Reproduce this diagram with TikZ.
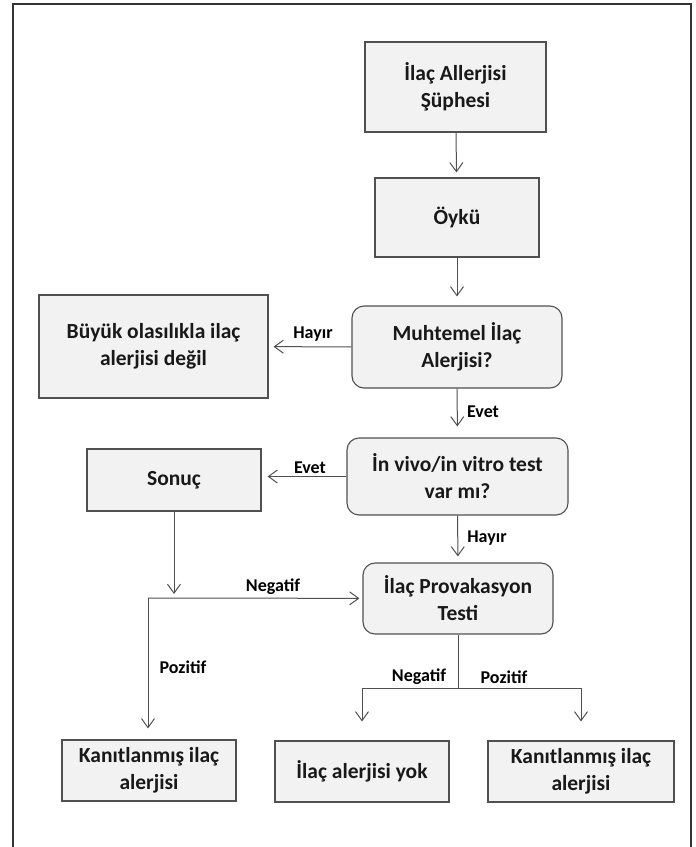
\documentclass[tikz,border=0pt]{standalone}
\usepackage{fontspec}
\setmainfont{Carlito}
\usetikzlibrary{arrows.meta}
\definecolor{boxgray}{HTML}{F2F2F3}
\definecolor{linegray}{HTML}{505050}

\begin{document}
\begin{tikzpicture}[x=1pt,y=-1pt,
    box/.style={draw=linegray,line width=1.1pt,fill=boxgray,align=center,text=black!90,
      font=\bfseries\fontsize{21.5}{27}\selectfont,inner sep=0pt},
    rbox/.style={box,rounded corners=12pt},
    lbl/.style={font=\bfseries\fontsize{18}{20}\selectfont},
    arr/.style={draw=linegray,line width=1pt,-{Straight Barb[length=9pt,width=13pt]}}]
  \useasboundingbox (0,0) rectangle (696,847);
  \draw [line width=1.5pt,black!80] (13,847)--(13,4)--(691,4)--(691,847);

  % boxes
  \node [box,minimum width=181pt,minimum height=90pt] (suphe) at (455.5,87) {İlaç Allerjisi\\Şüphesi};
  \node [box,minimum width=164pt,minimum height=79pt] (oyku) at (457,217.5) {Öykü};
  \node [rbox,minimum width=210pt,minimum height=82pt] (muhtemel) at (457,347) {Muhtemel İlaç\\Alerjisi?};
  \node [box,minimum width=229pt,minimum height=103pt] (degil) at (153.5,346.5) {Büyük olasılıkla ilaç\\alerjisi değil};
  \node [rbox,minimum width=221pt,minimum height=77pt] (test) at (457.5,476.5) {İn vivo/in vitro test\\var mı?};
  \node [box,minimum width=174pt,minimum height=62pt] (sonuc) at (174,480) {Sonuç};
  \node [rbox,minimum width=190pt,minimum height=71pt] (provak) at (458,598.5) {İlaç Provakasyon\\Testi};
  \node [box,minimum width=174pt,minimum height=61pt] (kanit) at (149,770.5) {Kanıtlanmış ilaç\\alerjisi};
  \node [box,minimum width=174pt,minimum height=61pt] (yok) at (362,771.5) {İlaç alerjisi yok};
  \node [box,minimum width=186pt,minimum height=61pt] (kanitb) at (581,771.5) {Kanıtlanmış ilaç\\alerjisi};

  % connectors
  \draw [arr,shorten >=5pt] (suphe) -- (oyku);
  \draw [arr,shorten >=9pt] (oyku) -- (muhtemel);
  \draw [arr,shorten >=5pt] (muhtemel) -- (degil);
  \draw [arr,shorten >=11pt] (muhtemel) -- (test);
  \draw [arr,shorten >=6pt] (test.west) -- (sonuc.east |- test.west);
  \draw [arr,shorten >=6pt] (test) -- (provak);
  \coordinate (join) at (148,598);
  \draw [arr,shorten >=4pt] (sonuc) -- (sonuc |- join);
  \draw [arr,shorten >=3pt] (join) -- (provak);
  \draw [arr,shorten >=11pt] (join) -- (kanit.north -| join);
  \coordinate (fork) at (458,688);
  \draw [draw=linegray,line width=1pt] (provak) -- (fork);
  \draw [arr,shorten >=19pt] (fork) -| (yok.north);
  \draw [arr,shorten >=19pt] (fork) -| (kanitb.north);

  % labels
  \node [lbl] (hayira) at (313,334) {Hayır};
  \node [lbl] (eveta) at (483,412) {Evet};
  \node [lbl] (evetb) at (310,468) {Evet};
  \node [lbl] (hayirb) at (487,538) {Hayır};
  \node [lbl] (nega) at (273,587) {Negatif};
  \node [lbl] (poza) at (183,667) {Pozitif};
  \node [lbl] (negb) at (419,677) {Negatif};
  \node [lbl] (pozb) at (504,677) {Pozitif};
\end{tikzpicture}
\end{document}
